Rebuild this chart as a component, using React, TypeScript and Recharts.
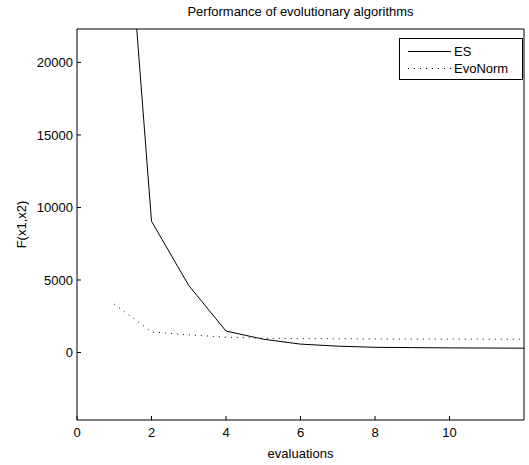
import React from 'react';
import { LineChart, Line, XAxis, YAxis, Legend } from 'recharts';

const evaluations = [1, 2, 3, 4, 5, 6, 7, 8, 9, 10, 11, 12];
const esValues = [42500, 9050, 4620, 1480, 920, 580, 440, 360, 340, 320, 310, 300];
const evoNormValues = [3340, 1420, 1220, 1060, 990, 960, 950, 940, 930, 925, 920, 920];
const xTicks = [0, 2, 4, 6, 8, 10];
const yTicks = [0, 5000, 10000, 15000, 20000];
const yDomain = [-4650, 22300];
const xDomain = [0, 12];

const data = evaluations.map((e, i) => ({ evaluations: e, ES: esValues[i], EvoNorm: evoNormValues[i] }));

const FONT = '"Liberation Sans", Arial, Helvetica, sans-serif';

const LegendBox = (props: any) => {
  const payload = props.payload || [];
  return (
    <div
      style={{
        border: '1px solid #000',
        background: '#fff',
        width: 124,
        height: 42,
        boxSizing: 'border-box',
        fontFamily: FONT,
        fontSize: 13,
        color: '#000',
        paddingTop: 4,
      }}
    >
      {payload.map((p: any) => (
        <div key={p.value} style={{ display: 'flex', alignItems: 'center', height: 17 }}>
          <svg width={54} height={17} style={{ display: 'block' }}>
            <line
              x1={8}
              x2={51}
              y1={8.5}
              y2={8.5}
              stroke="#000"
              strokeWidth={1}
              strokeDasharray={p.value === 'EvoNorm' ? '1 5' : undefined}
            />
          </svg>
          <span style={{ lineHeight: '17px' }}>{p.value}</span>
        </div>
      ))}
    </div>
  );
};

export default function App() {
  return (
    <div style={{ position: 'absolute', left: 0, top: 0, width: 529, height: 465, background: '#fff' }}>
      <LineChart
        width={529}
        height={465}
        data={data}
        margin={{ top: 0, right: 0, bottom: 0, left: 0 }}
        style={{ fontFamily: FONT }}
      >
        <XAxis
          dataKey="evaluations"
          type="number"
          domain={xDomain}
          ticks={xTicks}
          allowDataOverflow
          height={45}
          tickSize={-4}
          tickMargin={12}
          axisLine={{ stroke: '#000', strokeWidth: 1 }}
          tickLine={{ stroke: '#000' }}
          tick={{ fill: '#000', fontSize: 13, fontFamily: FONT }}
          label={{ value: 'evaluations', position: 'insideBottom', offset: 7, fill: '#000', fontSize: 13, fontFamily: FONT }}
        />
        <XAxis
          xAxisId="top"
          orientation="top"
          type="number"
          domain={xDomain}
          ticks={xTicks}
          height={29}
          tickSize={-4}
          tick={false}
          axisLine={{ stroke: '#000', strokeWidth: 1 }}
          tickLine={{ stroke: '#000' }}
          label={{ value: 'Performance of evolutionary algorithms', position: 'insideTop', offset: 7, fill: '#000', fontSize: 13, fontFamily: FONT }}
        />
        <YAxis
          type="number"
          domain={yDomain}
          ticks={yTicks}
          allowDataOverflow
          width={77}
          tickSize={-4}
          tickMargin={8}
          axisLine={{ stroke: '#000', strokeWidth: 1 }}
          tickLine={{ stroke: '#000' }}
          tick={{ fill: '#000', fontSize: 13, fontFamily: FONT }}
          label={{ value: 'F(x1,x2)', angle: -90, position: 'insideLeft', offset: 21, fill: '#000', fontSize: 13, fontFamily: FONT, style: { textAnchor: 'middle' } }}
        />
        <YAxis
          yAxisId="right"
          orientation="right"
          type="number"
          domain={yDomain}
          ticks={yTicks}
          allowDataOverflow
          width={5}
          tickSize={-4}
          tick={false}
          axisLine={{ stroke: '#000', strokeWidth: 1 }}
          tickLine={{ stroke: '#000' }}
        />
        <Legend
          layout="horizontal"
          verticalAlign="middle"
          align="center"
          content={<LegendBox />}
          wrapperStyle={{ position: 'absolute', left: 399, top: 38, width: 124, height: 42 }}
        />
        <Line
          dataKey="ES"
          name="ES"
          stroke="#000"
          strokeWidth={1}
          dot={false}
          activeDot={false}
          isAnimationActive={false}
          type="linear"
        />
        <Line
          dataKey="EvoNorm"
          name="EvoNorm"
          stroke="#000"
          strokeWidth={1}
          strokeDasharray="1 5"
          dot={false}
          activeDot={false}
          isAnimationActive={false}
          type="linear"
        />
      </LineChart>
    </div>
  );
}
